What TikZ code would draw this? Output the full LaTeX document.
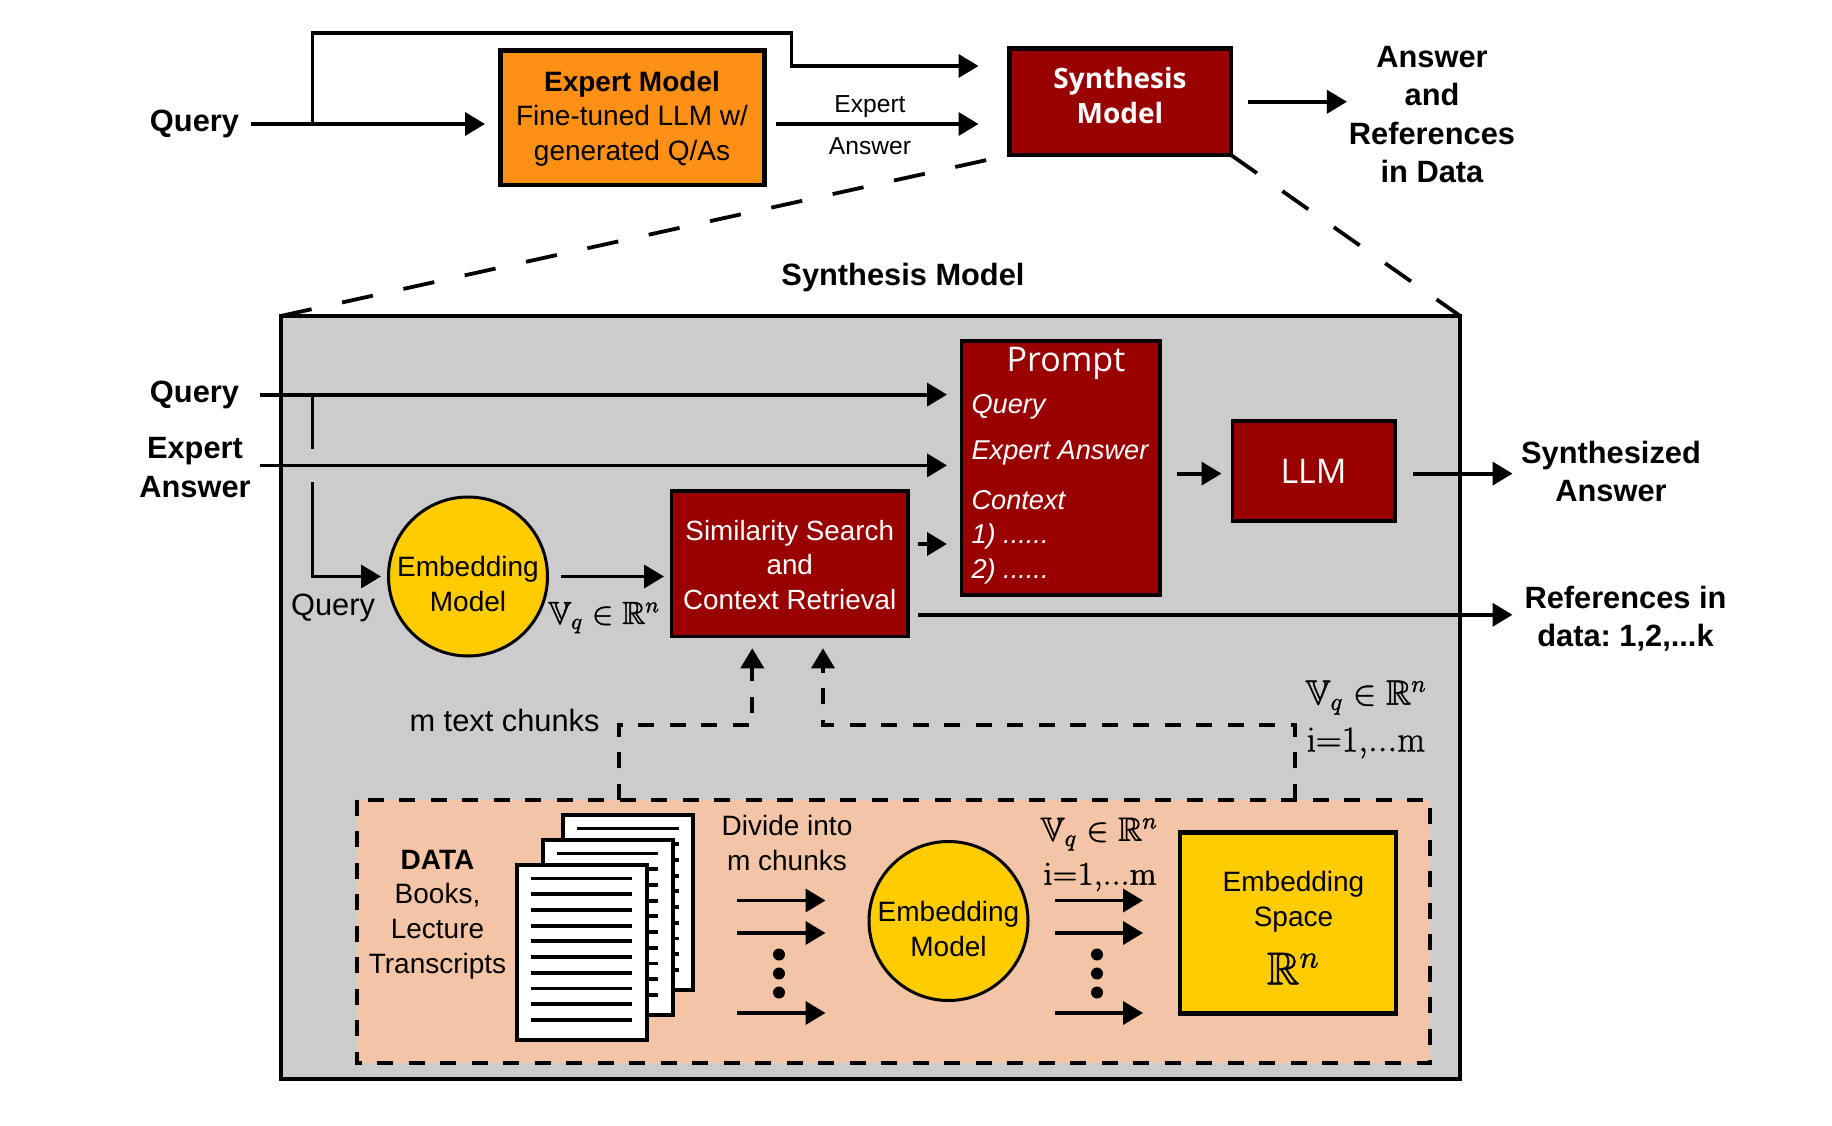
\documentclass[tikz,border=0pt]{standalone}
\usepackage{fix-cm}
\usepackage{amssymb}
\usepackage[no-math]{fontspec}
\setmainfont{Liberation Sans}
\newfontfamily\opensans{Open Sans}
\usetikzlibrary{calc,arrows.meta}
\definecolor{darkred}{RGB}{153,0,0}
\definecolor{expertorange}{RGB}{255,144,22}
\definecolor{panelgray}{RGB}{204,204,204}
\definecolor{datapeach}{RGB}{244,196,166}
\definecolor{embedyellow}{RGB}{255,204,0}
\tikzset{
  box/.style={
    draw=black,
    line width=2.2pt,
    outer sep=0pt,
    inner sep=0pt,
    align=center
  },
  redbox/.style={box, fill=darkred, text=white},
  inner-red/.style={redbox, line width=1.8pt},
  embed-disc/.style={
    box,
    circle,
    line width=1.5pt,
    fill=embedyellow,
    minimum size=79.5pt
  },
  txt/.style={inner sep=0pt, outer sep=0pt, align=center, font=\fontsize{14}{17.4}\selectfont},
  small-txt/.style={txt, font=\fontsize{12.3}{15}\selectfont},
  big-txt/.style={txt, font=\fontsize{15.4}{18}\selectfont},
  bold-txt/.style={txt, font=\fontsize{15.4}{19.2}\selectfont\bfseries\frenchspacing},
  sans-txt/.style={txt, text=white, font=\fontsize{17}{20}\selectfont\opensans},
  prompt-item/.style={txt, anchor=west, text=white, font=\fontsize{13.6}{17}\selectfont\itshape},
  wire/.style={line width=1.9pt},
  arrowline/.style={wire, -{Triangle[length=10pt,width=11.5pt]}},
  longdash/.style={wire, dash pattern=on 15.8pt off 15.6pt},
  shortdash/.style={wire, dash pattern=on 8pt off 7.75pt},
  page/.style={draw=black, fill=white, line width=2pt},
  page-line/.style={line width=1.9pt},
  dot/.style={circle, fill=black, minimum size=6pt, inner sep=0pt, outer sep=0pt}
}
% math in the picture is set slightly heavier
\newcommand{\heavy}[1]{\special{pdf:code q 2 Tr 0.22 w}#1\special{pdf:code Q}}
\newcommand{\vecspace}{\heavy{$\mathbb{V}_q\in\mathbb{R}^n$}}
\newcommand{\indexrange}{\heavy{$\mathrm{i{=}1{,}...m}$}}
\newcommand{\promptdots}{......}

\begin{document}
\begin{tikzpicture}[x=0.5pt,y=-0.5pt]
  \useasboundingbox (0,0) rectangle (1832,1125);

  % --- Top row ---
  \node[bold-txt] (query-top) at (194.5,124) {Query};
  \node[box, fill=expertorange, minimum width=132pt, minimum height=67.25pt] (expert) at (632.5,117.75) {};
  \node[txt, font=\fontsize{14}{17.2}\selectfont] (expert-txt) at (632,118.5) {\textbf{Expert Model}\\Fine-tuned LLM w/\\generated Q/As};
  \node[redbox, minimum width=110.75pt, minimum height=53.25pt] (synth) at (1120.25,101.75) {};
  \node[txt, text=white, font=\fontsize{14}{17.4}\selectfont\opensans\bfseries] (synth-txt) at (1120,95.5) {Synthesis\\Model};
  \node[small-txt] (ea-up) at (870,107) {Expert};
  \node[small-txt] (ea-low) at (870,145.7) {Answer};
  \node[bold-txt] (answer-out) at (1432,114.5) {Answer\\and\\References\\in Data};

  \coordinate (qsplit) at (312.5,124);
  \draw[arrowline, shorten <=6pt, shorten >=7.75pt] (query-top.east) -- (query-top.east -| expert.west);
  \draw[arrowline, shorten >=15.5pt] (qsplit) -- (312.5,33) -- (791.5,33) -- (791.5,66) -- (synth.west |- 0,66);
  \draw[arrowline, shorten <=5.75pt, shorten >=15.5pt] (expert.east |- qsplit) -- (synth.west |- qsplit);
  \draw[arrowline, shorten <=8.5pt, shorten >=1pt] (synth.east) -- (synth.east -| answer-out.west);

  % --- Synthesis model panel ---
  \node[box, fill=panelgray, line width=2pt, minimum width=589.75pt, minimum height=381.5pt] (panel) at (870.5,697.5) {};
  \draw[longdash, shorten >=11pt] (panel.north west) -- (synth.south west);
  \draw[longdash] (synth.south east) -- (panel.north east);
  \node[bold-txt] (panel-title) at (903,278) {Synthesis Model};

  % Prompt card
  \node[inner-red, minimum width=99.25pt, minimum height=127pt] (prompt) at (1060.75,468) {};
  \node[sans-txt] (prompt-title) at (1066,363.5) {Prompt};
  \foreach \nm/\txt/\yy in {p-query/Query/407, p-expert/Expert Answer/453, p-context/Context/500, p-one/1) \promptdots/536, p-two/2) \promptdots/571} {
    \node[prompt-item] (\nm) at (971.5,\yy) {\txt};
  }

  \node[inner-red, minimum width=81.25pt, minimum height=50pt] (llm) at (1313.75,471) {};
  \node[sans-txt] (llm-txt) at (1313.5,471) {LLM};
  \node[inner-red, minimum width=118.25pt, minimum height=72.75pt] (search) at (789.75,563.75) {};
  \node[txt, text=white, font=\fontsize{13.9}{17.4}\selectfont] (search-txt) at (789.75,565) {Similarity Search\\and\\Context Retrieval};
  \node[embed-disc] (embed-a) at (468,576.5) {};
  \node[txt] (embed-a-txt) at (468,584) {Embedding\\Model};

  % Labels left and right of panel
  \node[bold-txt] (query-in) at (194.5,394.6) {Query};
  \node[bold-txt] (expert-in) at (195,467.5) {Expert\\Answer};
  \node[big-txt] (query-small) at (333,608) {Query};
  \node[txt, font=\fontsize{16}{19}\selectfont] (vq-a) at (604,617.5) {\vecspace};
  \node[bold-txt] (synth-out) at (1611,471.5) {Synthesized\\Answer};
  \node[bold-txt] (refs-out) at (1625.5,619) {References in\\data: 1,2,...k};
  \node[big-txt] (chunks-txt) at (504.5,720) {m text chunks};
  \node[txt, font=\fontsize{17.5}{20}\selectfont] (vq-b) at (1366,697.5) {\vecspace};
  \node[txt, font=\fontsize{18}{20}\selectfont] (idx-b) at (1366,743) {\indexrange};

  % --- Data box ---
  \node[box, draw=none, fill=datapeach, minimum width=536.5pt, minimum height=131.7pt] (data) at (893.5,931.3) {};
  \draw[shortdash, line width=2pt] (data.north west) rectangle (data.south east);
  \node[txt] (data-txt) at (437.5,914.5) {\textbf{DATA}\\Books,\\Lecture\\Transcripts};

  % Three stacked pages, back one first
  \foreach \px/\py in {563/815, 542.5/840, 516.5/865} {
    \draw[page] (\px,\py) rectangle ++(130,175);
    \foreach \k in {0,...,9} {
      \draw[page-line] ({\px+14},{\py+13.5+\k*15.7}) -- ++(101.5,0);
    }
  }

  \node[txt] (divide-txt) at (787,843) {Divide into\\m chunks};
  \node[embed-disc] (embed-b) at (948.5,921) {};
  \node[txt] (embed-b-txt) at (948.5,929) {Embedding\\Model};
  \node[txt, font=\fontsize{16.8}{20}\selectfont] (vq-c) at (1099,834) {\vecspace};
  \node[txt, font=\fontsize{16.5}{20}\selectfont] (idx-c) at (1100,877) {\indexrange};
  \node[box, fill=embedyellow, minimum width=107.85pt, minimum height=90.5pt] (space) at (1287.85,923) {};
  \node[txt] (space-txt) at (1293.5,902) {Embedding\\Space};
  \node[txt, font=\fontsize{23}{25}\selectfont] (space-math) at (1293,968.5) {\heavy{$\mathbb{R}^n$}};

  % Parallel arrows and dots
  \foreach \xa/\tag in {737/l, 1054.5/r} {
    \foreach \yy/\n in {900.5/1, 933/2, 1013/3} {
      \coordinate (\tag-start-\n) at (\xa,\yy);
      \draw[arrowline] (\tag-start-\n) -- ++(88.5,0);
    }
  }
  \foreach \xa/\tag in {779/l, 1097/r} {
    \foreach \yy/\n in {954.5/1, 973.5/2, 992.5/3} {
      \node[dot] (\tag-dot-\n) at (\xa,\yy) {};
    }
  }

  % --- Panel connectors ---
  \coordinate (qdrop) at (312.5,396);
  \coordinate (qresume) at (312.5,482);
  \coordinate (ea-y) at (0,465.4);
  \coordinate (ctx-y) at (0,544);
  \coordinate (llm-y) at (0,473.6);
  \coordinate (ref-y) at (0,614.8);
  \coordinate (dash-l) at (618.6,724.7);
  \coordinate (dash-r) at (1294.7,724.7);

  \draw[arrowline, shorten <=10.5pt, shorten >=7.25pt] (query-in.east) -- (query-in.east -| prompt.west);
  \draw[arrowline, shorten <=4.5pt, shorten >=7.25pt] (expert-in.east |- ea-y) -- (prompt.west |- ea-y);
  \draw[wire] (qdrop) -- (312.5,449);
  \draw[arrowline, shorten >=3.75pt] (qresume) |- (embed-a.west);
  \draw[arrowline, shorten <=6.6pt, shorten >=3.75pt] (embed-a.east) -- (search.west |- embed-a.east);
  \draw[arrowline, shorten <=5pt, shorten >=7.25pt] (search.east |- ctx-y) -- (prompt.west |- ctx-y);
  \draw[arrowline, shorten <=8.5pt, shorten >=5.5pt] (prompt.east |- llm-y) -- (llm.west |- llm-y);
  \draw[arrowline, shorten <=8.75pt, shorten >=4.3pt] (llm.east |- llm-y) -- (synth-out.west |- llm-y);
  \draw[arrowline, shorten <=5pt, shorten >=6pt] (search.east |- ref-y) -- (refs-out.west |- ref-y);

  \draw[shortdash, -{Triangle[length=10pt,width=11.5pt]}, shorten >=5.9pt]
    (dash-l |- data.north) -- (dash-l) -- (752.3,724.7) -- (752.3,0 |- search.south);
  \draw[shortdash, -{Triangle[length=10pt,width=11.5pt]}, shorten >=5.9pt]
    (dash-r |- data.north) -- (dash-r) -- (823,724.7) -- (823,0 |- search.south);
\end{tikzpicture}
\end{document}
